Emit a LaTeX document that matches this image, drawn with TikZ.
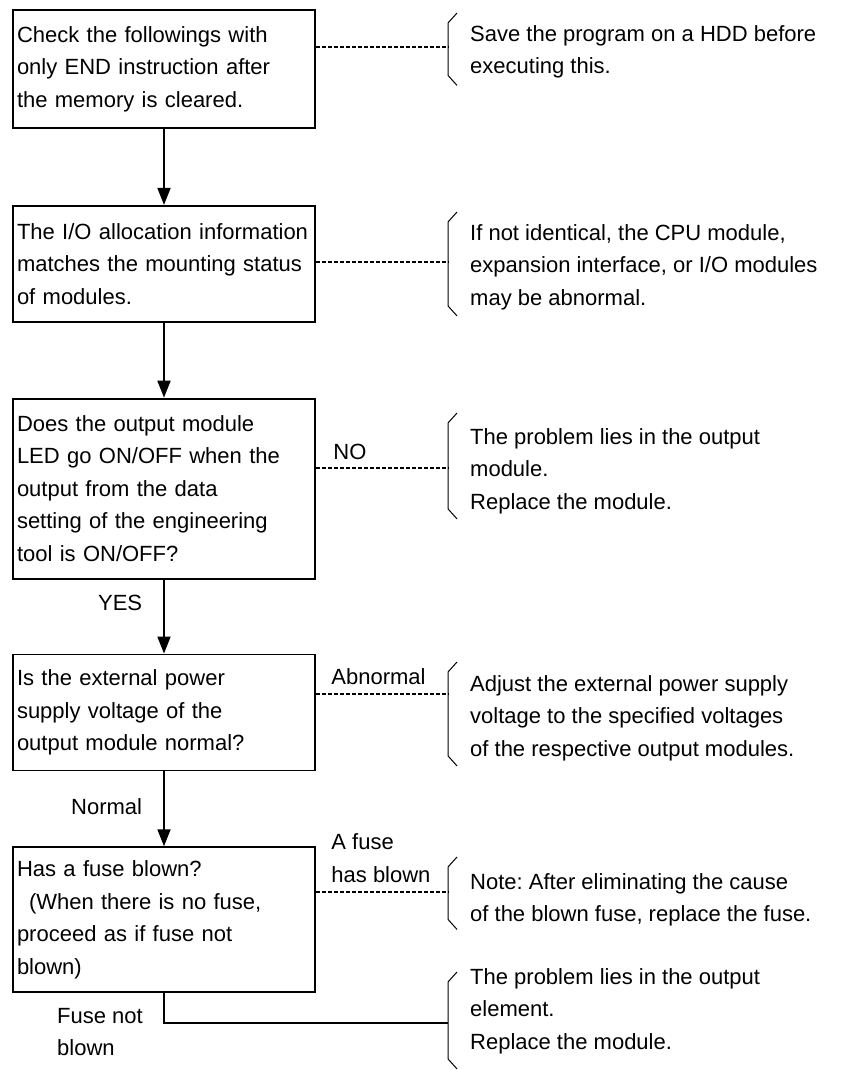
\documentclass[tikz,border=0pt]{standalone}
\usepackage{fontspec}
\setmainfont{Liberation Sans}
\usetikzlibrary{positioning,arrows.meta}
\frenchspacing

\begin{document}
\begin{tikzpicture}[
  x=1pt,y=1pt,
  node distance=75pt,
  every node/.style={font=\fontsize{22}{32.5}\selectfont,inner sep=0pt},
  stepbox/.style={draw,line width=1.8pt,text width=294pt,inner xsep=4pt,align=left},
  note/.style={anchor=north west,align=left},
  lbl/.style={align=left},
  flow/.style={line width=1.8pt,-{Triangle[width=13pt,length=17pt]}},
  link/.style={line width=1.1pt,dash pattern=on 4pt off 2pt},
  brace/.style={line width=1pt}
]
\useasboundingbox (0,0) rectangle (851,-1070);

% check steps
\node[stepbox,minimum height=118pt] (c1) at (164,-69) {Check the followings with\\only END instruction after\\the memory is cleared.};
\node[stepbox,minimum height=116pt,below=76pt of c1] (c2) {The I/O allocation information\\matches the mounting status\\of modules.};
\node[stepbox,minimum height=180pt,below=of c2] (c3) {Does the output module\\LED go ON/OFF when the\\output from the data\\setting of the engineering\\tool is ON/OFF?};
\node[stepbox,minimum height=116pt,below=74pt of c3] (c4) {Is the external power\\supply voltage of the\\output module normal?};
\node[stepbox,minimum height=145pt,below=of c4] (c5) {Has a fuse blown?\\\hspace*{12pt}(When there is no fuse,\\proceed as if fuse not\\blown)};

% remarks
\node[note] (n1) at (470,-25) {Save the program on a HDD before\\executing this.};
\node[note] (n2) at (470,-224) {If not identical, the CPU module,\\expansion interface, or I/O modules\\may be abnormal.};
\node[note] (n3) at (470,-428) {The problem lies in the output\\module.\\Replace the module.};
\node[note] (n4) at (470,-675) {Adjust the external power supply\\voltage to the specified voltages\\of the respective output modules.};
\node[note] (n5) at (470,-873) {Note: After eliminating the cause\\of the blown fuse, replace the fuse.};
\node[note] (n6) at (470,-968) {The problem lies in the output\\element.\\Replace the module.};

\foreach \n/\t/\b in {n1/12/7,n2/12/6,n3/15/5,n4/13/5,n5/16/3,n6/-4/15}
  \draw[brace] ([xshift=-13pt,yshift=\t pt]\n.north west) -- ++(-9,-10)
    -- ([xshift=-22pt,yshift={(10-\b)*1pt}]\n.south west) -- ++(9,-10);

\coordinate (b1) at (448,-47);
\coordinate (b2) at (448,-262);
\coordinate (b3) at (448,-468);
\coordinate (b4) at (448,-694);
\coordinate (b5) at (448,-892);
\coordinate (b6) at (448,-1023);

% flow
\draw[flow] (c1) -- (c2);
\draw[flow] (c2) -- (c3);
\draw[flow] (c3) -- node[lbl,left=21pt,pos=0.32] {YES} (c4);
\draw[flow] (c4) -- node[lbl,left=21pt,pos=0.47] {Normal} (c5);
\draw[line width=1.8pt] (c5.south) |- (b6);
\node[lbl,anchor=north east] (fnb) at ([xshift=-21pt,yshift=-15pt]c5.south) {Fuse not\\blown};

% side remarks
\draw[link] (c1.east |- b1) -- (b1);
\draw[link] (c2.east |- b2) -- (b2);
\draw[link] (c3.east |- b3) -- node[lbl,at start,anchor=south west,xshift=17pt,yshift=8pt] {NO} (b3);
\draw[link] (c4.east |- b4) -- node[lbl,at start,anchor=south west,xshift=15pt,yshift=9pt] {Abnormal} (b4);
\draw[link] (c5.east |- b5) -- node[lbl,at start,anchor=south west,xshift=15pt,yshift=9pt] {A fuse\\has blown} (b5);
\end{tikzpicture}
\end{document}
